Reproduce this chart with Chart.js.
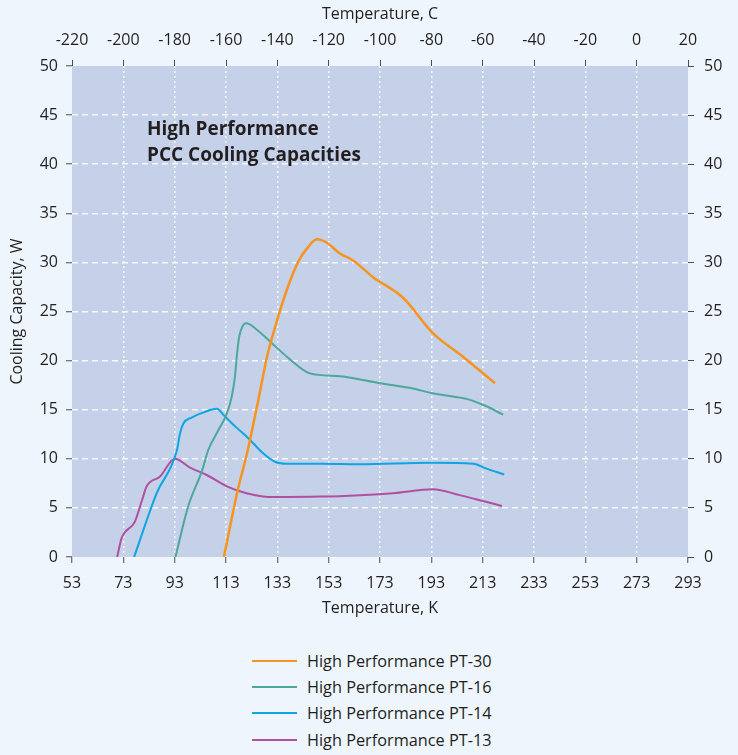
<!DOCTYPE html>
<html>
<head>
<meta charset="utf-8">
<script src="https://cdn.jsdelivr.net/npm/chart.js@4.4.1/dist/chart.umd.min.js"></script>
<style>
  body { margin: 0; background: #eef5fc; font-family: 'Open Sans', sans-serif; }
  #wrap { position: relative; width: 738px; height: 755px; }
  #box { position: absolute; left: 0; top: 0; width: 738px; height: 625px; }
  .leg { position: absolute; left: 252px; height: 26px; display: flex; align-items: center; font-size: 16.3px; color: #231f20; white-space: nowrap; }
  .leg span.line { display: inline-block; width: 45px; height: 2px; margin-right: 10px; }
</style>
</head>
<body>
<div id="wrap">
  <div id="box"><canvas id="cooling"></canvas></div>
  <div id="legend"></div>
</div>
<script>
// ticks (kelvin em baixo, celsius em cima)
const kTicks = [53, 73, 93, 113, 133, 153, 173, 193, 213, 233, 253, 273, 293];
const cTicks = [-220, -200, -180, -160, -140, -120, -100, -80, -60, -40, -20, 0, 20];
const wTicks = [0, 5, 10, 15, 20, 25, 30, 35, 40, 45, 50];

// PT-30
const pt30K = [112.2, 117.3, 121.5, 125.6, 129, 132.9, 137.1, 141.4, 144.5, 148.4, 152.3, 157.4, 162.5, 170.3, 182, 193.6, 205.3, 217.8];
const pt30W = [0, 6.5, 10.9, 16, 20.4, 24.1, 27.5, 30.2, 31.4, 32.35, 32.0, 30.9, 30.2, 28.5, 26.4, 22.8, 20.4, 17.7];
// PT-16
const pt16K = [93.3, 98.2, 103.8, 106.1, 110, 113.3, 115.2, 116.5, 117.2, 118.1, 119.7, 121, 124.3, 130.8, 136.7, 145.7, 157.4, 173, 185, 193.1, 197.5, 206.7, 213.1, 221];
const pt16W = [0, 5.1, 8.9, 10.9, 12.9, 14.6, 16.3, 18.4, 20.4, 22.4, 23.6, 23.8, 23.3, 21.8, 20.4, 18.7, 18.4, 17.7, 17.2, 16.7, 16.5, 16.1, 15.5, 14.5];
// PT-14
const pt14K = [77.2, 86, 93.9, 95.1, 96.4, 99.6, 104, 109.4, 112.6, 117, 121.7, 126.9, 132.1, 136.8, 150, 165, 193, 209.3, 214.5, 221.4];
const pt14W = [0, 6.5, 10.9, 12.6, 13.6, 14.2, 14.7, 15.1, 14.3, 13.2, 12.1, 10.7, 9.7, 9.5, 9.5, 9.45, 9.6, 9.5, 9.0, 8.4];
// PT-13
const pt13K = [70.6, 72.3, 77.5, 80.3, 82.1, 87.3, 93.1, 99, 105.5, 113.3, 121, 131.4, 150, 165.2, 178, 193.6, 204, 213.1, 220.5];
const pt13W = [0, 1.9, 3.6, 5.8, 7.2, 8.2, 10.0, 9.1, 8.35, 7.2, 6.5, 6.1, 6.15, 6.3, 6.5, 6.9, 6.3, 5.7, 5.2];

const labels = ['High Performance PT-30', 'High Performance PT-16', 'High Performance PT-14', 'High Performance PT-13'];
const colors = ['#f7941d', '#4ba89b', '#0ea5e2', '#b0509f'];

function pts(xs, ys) {
  return xs.map((x, i) => ({ x: x, y: ys[i] }));
}

const textColor = '#231f20';
const tickColor = '#4d4d4d';

Chart.defaults.font.family = "'Open Sans', sans-serif";
Chart.defaults.font.size = 16;
Chart.defaults.color = textColor;

// fundo da area do grafico + titulo interno
const plotBack = {
  id: 'plotBack',
  beforeDraw(chart) {
    const { ctx, chartArea: a } = chart;
    ctx.save();
    ctx.fillStyle = '#c5d0e9';
    ctx.fillRect(a.left, a.top, a.right - a.left, a.bottom - a.top);
    ctx.restore();
  },
  afterDraw(chart) {
    const ctx = chart.ctx;
    ctx.save();
    ctx.fillStyle = textColor;
    ctx.font = "bold 19px 'Open Sans', sans-serif";
    ctx.textBaseline = 'alphabetic';
    ctx.fillText('High Performance', 147, 135);
    ctx.fillText('PCC Cooling Capacities', 147, 161);
    ctx.restore();
  }
};

function edgeHidden(ctx) {
  const n = ctx.scale.ticks.length;
  if (ctx.index === 0 || ctx.index === n - 1) return 'rgba(0,0,0,0)';
  return 'rgba(255,255,255,0.85)';
}

const datasets = [
  [pt30K, pt30W], [pt16K, pt16W], [pt14K, pt14W], [pt13K, pt13W]
].map((d, i) => ({
  label: labels[i],
  data: pts(d[0], d[1]),
  borderColor: colors[i],
  backgroundColor: colors[i],
  borderWidth: i === 0 ? 2.5 : 2,
  pointRadius: 0,
  cubicInterpolationMode: 'monotone',
  xAxisID: 'x',
  yAxisID: 'y'
}));

const chart = new Chart(document.getElementById('cooling').getContext('2d'), {
  type: 'line',
  data: { datasets: datasets },
  options: {
    responsive: true,
    maintainAspectRatio: false,
    animation: false,
    layout: { padding: 0 },
    plugins: { legend: { display: false }, tooltip: { enabled: false } },
    scales: {
      x: {
        type: 'linear', position: 'bottom', min: 53, max: 293,
        afterBuildTicks: s => { s.ticks = kTicks.map(v => ({ value: v })); },
        afterFit: s => { s.height = 68; },
        ticks: { padding: 11, maxRotation: 0, autoSkip: false },
        grid: { color: edgeHidden, lineWidth: 1.5, tickColor: tickColor, tickLength: 6, tickWidth: 1 },
        border: { display: false, dash: [2, 3] },
        title: { display: true, text: 'Temperature, K', padding: { top: 0, bottom: 7 } }
      },
      xC: {
        type: 'linear', position: 'top', min: -220, max: 20,
        afterBuildTicks: s => { s.ticks = cTicks.map(v => ({ value: v })); },
        afterFit: s => { s.height = 66; },
        ticks: { padding: 10, maxRotation: 0, autoSkip: false },
        grid: { drawOnChartArea: false, tickColor: tickColor, tickLength: 6, tickWidth: 1 },
        border: { display: false },
        title: { display: true, text: 'Temperature, C', padding: { top: 5, bottom: 0 } }
      },
      y: {
        type: 'linear', position: 'left', min: 0, max: 50,
        afterBuildTicks: s => { s.ticks = wTicks.map(v => ({ value: v })); },
        afterFit: s => { s.width = 72; },
        ticks: { padding: 8 },
        grid: { color: edgeHidden, lineWidth: 1.5, tickColor: tickColor, tickLength: 6, tickWidth: 1 },
        border: { display: false, dash: [6, 4] },
        title: { display: true, text: 'Cooling Capacity, W', padding: { top: 8, bottom: 0 } }
      },
      yR: {
        type: 'linear', position: 'right', min: 0, max: 50,
        afterBuildTicks: s => { s.ticks = wTicks.map(v => ({ value: v })); },
        afterFit: s => { s.width = 50; },
        ticks: { padding: 10 },
        grid: { drawOnChartArea: false, tickColor: tickColor, tickLength: 6, tickWidth: 1 },
        border: { display: false }
      }
    }
  },
  plugins: [plotBack]
});

// legenda vertical em baixo
const legend = document.getElementById('legend');
const rowsY = [648, 674, 700, 727];
labels.forEach((l, i) => {
  const row = document.createElement('div');
  row.className = 'leg';
  row.style.top = rowsY[i] + 'px';
  row.innerHTML = '<span class="line" style="background:' + colors[i] + '"></span>' + l;
  legend.appendChild(row);
});
</script>
</body>
</html>
